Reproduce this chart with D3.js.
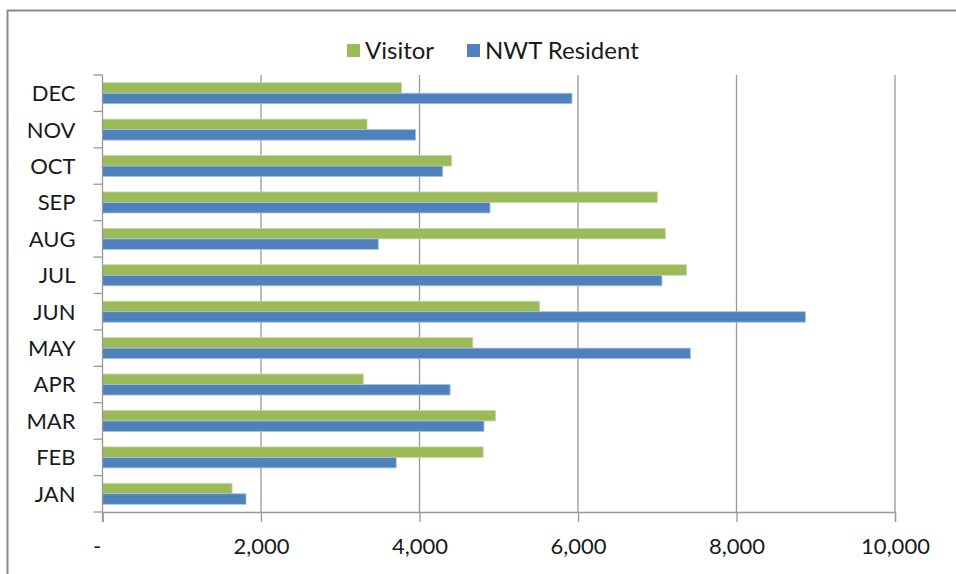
<!DOCTYPE html>
<html>
<head>
<meta charset="utf-8">
<script src="https://cdn.jsdelivr.net/npm/d3@7"></script>
<style>
  body { margin: 0; background: #fff; }
  text { font-family: Lato, "Open Sans", sans-serif; fill: #1a1a1a; }
</style>
</head>
<body>
<div id="chart"></div>
<script>
var months = ["JAN", "FEB", "MAR", "APR", "MAY", "JUN", "JUL", "AUG", "SEP", "OCT", "NOV", "DEC"];
var visitor = [1635, 4803, 4960, 3290, 4673, 5517, 7370, 7102, 7001, 4406, 3338, 3775];
var resident = [1811, 3706, 4814, 4386, 7418, 8870, 7059, 3480, 4890, 4293, 3952, 5924];
var seriesNames = ["Visitor", "NWT Resident"];
var xTicks = [0, 2000, 4000, 6000, 8000, 10000];

var width = 956,
    height = 574;

var colors = ["#9BBB59", "#4F81BD"];
var strokes = ["#c6d9a2", "#a9c0e0"];

var svg = d3.select("#chart")
    .append("svg")
    .attr("width", width)
    .attr("height", height);

// outer frame (runs off the right and bottom edges)
svg.append("rect")
    .attr("x", 7.5).attr("y", 10.5)
    .attr("width", 1000).attr("height", 1000)
    .attr("fill", "none")
    .attr("stroke", "#8a8a8a")
    .attr("stroke-width", 2);

var plotLeft = 102.5, plotRight = 895, plotTop = 75, plotBottom = 512;

var x = d3.scaleLinear().domain([0, 10000]).range([plotLeft, plotRight]);

// reversed so DEC sits on top
var y = d3.scaleBand().domain(months.slice().reverse()).range([plotTop, plotBottom]);
var bandPad = 15.4 / 36.4;
var inner = d3.scaleBand().domain([0, 1])
    .range([y.bandwidth() * bandPad / 2, y.bandwidth() * (1 - bandPad / 2)]);

// gridlines
svg.append("g")
    .selectAll("line")
    .data(xTicks.slice(1))
  .enter().append("line")
    .attr("x1", d => x(d)).attr("x2", d => x(d))
    .attr("y1", plotTop).attr("y2", plotBottom)
    .attr("stroke", "#999")
    .attr("stroke-width", 1.3);

var rows = months.map((m, i) => ({ month: m, values: [visitor[i], resident[i]] }));

var group = svg.append("g")
    .selectAll("g")
    .data(rows)
  .enter().append("g")
    .attr("transform", d => "translate(0," + y(d.month) + ")");

group.selectAll("rect")
    .data(d => d.values.map((v, k) => ({ v: v, k: k })))
  .enter().append("rect")
    .attr("x", x(0))
    .attr("y", d => inner(d.k))
    .attr("width", d => x(d.v) - x(0))
    .attr("height", inner.bandwidth())
    .attr("fill", d => colors[d.k])
    .attr("stroke", d => strokes[d.k])
    .attr("stroke-width", 0.8);

// x axis
var xAxis = svg.append("g")
    .attr("transform", "translate(0," + plotBottom + ")")
    .call(d3.axisBottom(x)
        .tickValues(xTicks)
        .tickSize(10)
        .tickPadding(16)
        .tickFormat(d => d === 0 ? "-" : d3.format(",")(d)));
xAxis.select(".domain").attr("stroke", "#999").attr("stroke-width", 1.3);
xAxis.selectAll(".tick line").attr("stroke", "#999").attr("stroke-width", 1.3);
xAxis.selectAll(".tick text")
    .attr("font-size", 22)
    .attr("dx", d => d === 0 ? -6 : 0)
    .style("font-family", "Lato, 'Open Sans', sans-serif")
    .style("fill", "#1a1a1a");

// y axis with boundary ticks
var yAxis = svg.append("g")
    .attr("transform", "translate(" + plotLeft + ",0)");
yAxis.append("line")
    .attr("x1", 0).attr("x2", 0)
    .attr("y1", plotTop).attr("y2", plotBottom + 10)
    .attr("stroke", "#999").attr("stroke-width", 1.3);
yAxis.selectAll(".bt")
    .data(months.map(m => y(m)).concat([plotBottom]))
  .enter().append("line")
    .attr("x1", -9).attr("x2", 0)
    .attr("y1", d => d).attr("y2", d => d)
    .attr("stroke", "#999").attr("stroke-width", 1.3);
yAxis.selectAll("text")
    .data(months)
  .enter().append("text")
    .attr("x", -27)
    .attr("y", d => y(d) + y.bandwidth() / 2)
    .attr("dy", "0.36em")
    .attr("text-anchor", "end")
    .attr("font-size", 22)
    .text(d => d);

// legend
var legend = svg.append("g");
var legendX = [347, 467];
seriesNames.forEach(function(name, k) {
  legend.append("rect")
      .attr("x", legendX[k]).attr("y", 44)
      .attr("width", 13).attr("height", 13)
      .attr("fill", colors[k]);
  legend.append("text")
      .attr("x", legendX[k] + 18)
      .attr("y", 50.5)
      .attr("dy", "0.36em")
      .attr("font-size", 24)
      .text(name);
});
</script>
</body>
</html>
